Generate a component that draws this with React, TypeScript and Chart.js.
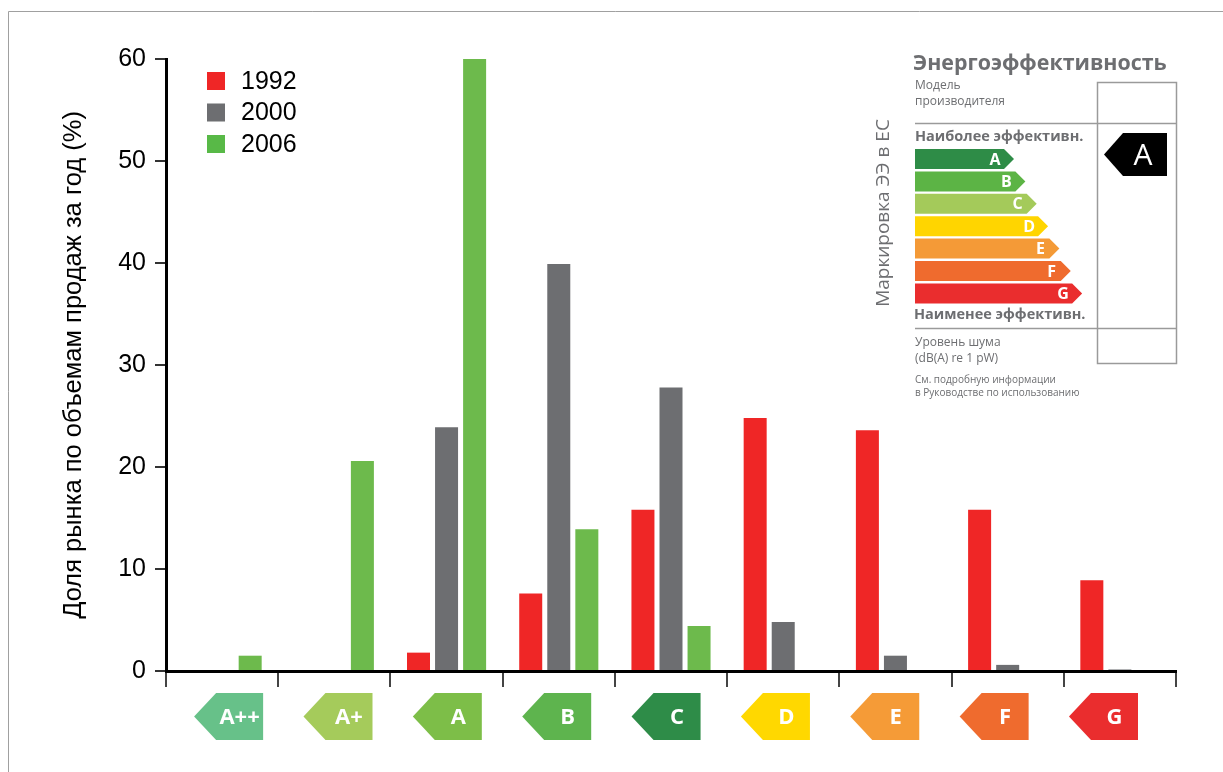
import React, { useEffect, useRef } from 'react';
import { Chart, registerables } from 'chart.js';

Chart.register(...registerables);

// ---- data ----
const categories = ['A++', 'A+', 'A', 'B', 'C', 'D', 'E', 'F', 'G'];
const values1992 = [0, 0, 1.8, 7.6, 15.8, 24.8, 23.6, 15.8, 8.9];
const values2000 = [0, 0, 23.9, 39.9, 27.8, 4.8, 1.5, 0.6, 0.15];
const values2006 = [1.5, 20.6, 60, 13.9, 4.4, 0, 0, 0, 0];
const seriesLabels = ['1992', '2000', '2006'];
const yTitle = 'Доля рынка по объемам продаж за год (%)';
const yMin = 0;
const yMax = 60;
const yStep = 10;

// inset label text
const insetTitle = 'Энергоэффективность';
const insetModel = ['Модель', 'производителя'];
const insetBest = 'Наиболее эффективн.';
const insetWorst = 'Наименее эффективн.';
const insetNoise = ['Уровень шума', '(dB(A) re 1 pW)'];
const insetNote = ['См. подробную информации', 'в Руководстве по использованию'];
const insetSide = 'Маркировка ЭЭ в ЕС';
const insetClasses = ['A', 'B', 'C', 'D', 'E', 'F', 'G'];
const insetChosen = 'A';

// ---- styles ----
const seriesColors = ['#EF2626', '#6D6E71', '#6DBA4C'];
const legendColors = ['#EF2626', '#6D6E71', '#58B947'];
const categoryColors = ['#67C189', '#A5CB5B', '#7DBE48', '#5EB44E', '#2E8C48', '#FFD800', '#F59B37', '#EF6B2E', '#EA2D2E'];
const insetClassColors = ['#2E8C47', '#5CB445', '#A4CA5A', '#FFD500', '#F49A37', '#EF6B2E', '#EA2D2E'];
const GRAY_TEXT = '#6D6E71';
const LINE_GRAY = '#9A9A9A';
const SANS = '"Liberation Sans", Arial, sans-serif';
const OPEN = '"Open Sans", "Noto Sans", sans-serif';
const ARROW_SPREAD = 0.9745;

const framePlugin = {
  id: 'frame',
  beforeDraw(chart: any) {
    const ctx = chart.ctx;
    ctx.save();
    ctx.fillStyle = '#ffffff';
    ctx.fillRect(0, 0, chart.width, chart.height);
    ctx.strokeStyle = '#A0A0A0';
    ctx.lineWidth = 1;
    ctx.beginPath();
    ctx.moveTo(8.5, chart.height);
    ctx.lineTo(8.5, 11.5);
    ctx.lineTo(chart.width, 11.5);
    ctx.stroke();
    ctx.restore();
  },
};

const categoryArrowsPlugin = {
  id: 'categoryArrows',
  afterDraw(chart: any) {
    const ctx = chart.ctx;
    const xs = chart.scales.x;
    const top = 693;
    const bottom = 740;
    const mid = (top + bottom) / 2;
    const c0 = xs.getPixelForValue(0);
    ctx.save();
    categories.forEach((c, i) => {
      const cx = c0 + (xs.getPixelForValue(i) - c0) * ARROW_SPREAD;
      const tip = cx - 28;
      const diag = cx - 6;
      const right = cx + 41;
      ctx.fillStyle = categoryColors[i];
      ctx.beginPath();
      ctx.moveTo(tip, mid);
      ctx.lineTo(diag, top);
      ctx.lineTo(right, top);
      ctx.lineTo(right, bottom);
      ctx.lineTo(diag, bottom);
      ctx.closePath();
      ctx.fill();
      ctx.fillStyle = '#ffffff';
      ctx.font = `bold 22px ${OPEN}`;
      ctx.textAlign = 'center';
      ctx.textBaseline = 'middle';
      ctx.fillText(c, (diag + right) / 2, mid + 1);
    });
    ctx.restore();
  },
};

const legendPlugin = {
  id: 'customLegend',
  afterDraw(chart: any) {
    const ctx = chart.ctx;
    ctx.save();
    seriesLabels.forEach((l, i) => {
      const cy = 81 + i * 31.5;
      ctx.fillStyle = legendColors[i];
      ctx.fillRect(207, cy - 9, 18, 18);
      ctx.fillStyle = '#000';
      ctx.font = `25px ${SANS}`;
      ctx.textAlign = 'left';
      ctx.textBaseline = 'middle';
      ctx.fillText(l, 241, cy + 1);
    });
    ctx.restore();
  },
};

const insetPlugin = {
  id: 'inset',
  afterDraw(chart: any) {
    const ctx = chart.ctx;
    ctx.save();
    ctx.textAlign = 'left';
    ctx.textBaseline = 'middle';
    // title
    ctx.fillStyle = GRAY_TEXT;
    ctx.font = `bold 21.4px ${OPEN}`;
    ctx.fillText(insetTitle, 913, 64);
    // model lines
    ctx.font = `12px ${OPEN}`;
    ctx.fillText(insetModel[0], 915, 86);
    ctx.fillText(insetModel[1], 915, 102);
    // box + lines
    ctx.strokeStyle = LINE_GRAY;
    ctx.lineWidth = 1.5;
    ctx.strokeRect(1097.5, 82.5, 79, 281);
    ctx.beginPath();
    ctx.moveTo(915, 123.5);
    ctx.lineTo(1176, 123.5);
    ctx.moveTo(915, 328.5);
    ctx.lineTo(1176, 328.5);
    ctx.stroke();
    // best / worst
    ctx.fillStyle = GRAY_TEXT;
    ctx.font = `bold 14.5px ${OPEN}`;
    ctx.fillText(insetBest, 915, 137);
    ctx.fillText(insetWorst, 914, 315);
    // class bars
    insetClasses.forEach((c, i) => {
      const t = 149 + i * 22.4;
      const h = 20;
      const tip = 1014 + i * 11.35;
      ctx.fillStyle = insetClassColors[i];
      ctx.beginPath();
      ctx.moveTo(915, t);
      ctx.lineTo(tip - 10, t);
      ctx.lineTo(tip, t + h / 2);
      ctx.lineTo(tip - 10, t + h);
      ctx.lineTo(915, t + h);
      ctx.closePath();
      ctx.fill();
      ctx.fillStyle = '#ffffff';
      ctx.font = `bold 16px ${OPEN}`;
      ctx.textAlign = 'center';
      ctx.fillText(c, tip - 19, t + h / 2 + 1);
      ctx.textAlign = 'left';
    });
    // noise + note
    ctx.fillStyle = GRAY_TEXT;
    ctx.font = `12px ${OPEN}`;
    ctx.fillText(insetNoise[0], 915, 343);
    ctx.fillText(insetNoise[1], 915, 359);
    ctx.font = `10px ${OPEN}`;
    ctx.fillText(insetNote[0], 915, 380);
    ctx.fillText(insetNote[1], 915, 393);
    // chosen class arrow
    ctx.fillStyle = '#000';
    ctx.beginPath();
    ctx.moveTo(1104, 154.5);
    ctx.lineTo(1123, 133);
    ctx.lineTo(1167, 133);
    ctx.lineTo(1167, 176);
    ctx.lineTo(1123, 176);
    ctx.closePath();
    ctx.fill();
    ctx.fillStyle = '#fff';
    ctx.font = `30px ${OPEN}`;
    ctx.textAlign = 'center';
    ctx.fillText(insetChosen, 1143, 156);
    // side text
    ctx.save();
    ctx.translate(884, 213);
    ctx.rotate(-Math.PI / 2);
    ctx.fillStyle = GRAY_TEXT;
    ctx.font = `19px ${OPEN}`;
    ctx.textAlign = 'center';
    ctx.fillText(insetSide, 0, 0);
    ctx.restore();
    ctx.restore();
  },
};

export default function App() {
  const canvasRef = useRef<HTMLCanvasElement | null>(null);

  useEffect(() => {
    if (!canvasRef.current) return;
    const chart = new Chart(canvasRef.current, {
      type: 'bar',
      data: {
        labels: categories,
        datasets: [
          { label: seriesLabels[0], data: values1992, backgroundColor: seriesColors[0], borderWidth: 0 },
          { label: seriesLabels[1], data: values2000, backgroundColor: seriesColors[1], borderWidth: 0 },
          { label: seriesLabels[2], data: values2006, backgroundColor: seriesColors[2], borderWidth: 0 },
        ],
      },
      options: {
        animation: false,
        responsive: true,
        maintainAspectRatio: false,
        layout: { padding: { top: 59, right: 47, left: 0, bottom: 0 } },
        datasets: { bar: { categoryPercentage: 0.75, barPercentage: 0.82 } },
        plugins: { legend: { display: false }, tooltip: { enabled: false } },
        scales: {
          x: {
            afterFit: (s: any) => { s.height = 101; },
            grid: { offset: true, drawOnChartArea: false, drawTicks: true, tickLength: 16, color: '#444', lineWidth: 2 },
            border: { display: true, color: '#000', width: 3 },
            ticks: { display: false },
          },
          y: {
            min: yMin,
            max: yMax,
            afterFit: (s: any) => { s.width = 166; },
            grid: { drawOnChartArea: false, drawTicks: true, tickLength: 11, color: '#333', lineWidth: 2 },
            border: { display: true, color: '#000', width: 3 },
            ticks: { stepSize: yStep, color: '#000', padding: 9, font: { family: SANS, size: 25 } },
            title: {
              display: true,
              text: yTitle,
              color: '#000',
              font: { family: SANS, size: 25.5 },
              padding: { top: 59, bottom: 0 },
            },
          },
        },
      },
      plugins: [framePlugin, categoryArrowsPlugin, legendPlugin, insetPlugin],
    });
    return () => chart.destroy();
  }, []);

  return (
    <div style={{ position: 'fixed', left: 0, top: 0, width: 1223, height: 772, background: '#fff' }}>
      <canvas ref={canvasRef} />
    </div>
  );
}
